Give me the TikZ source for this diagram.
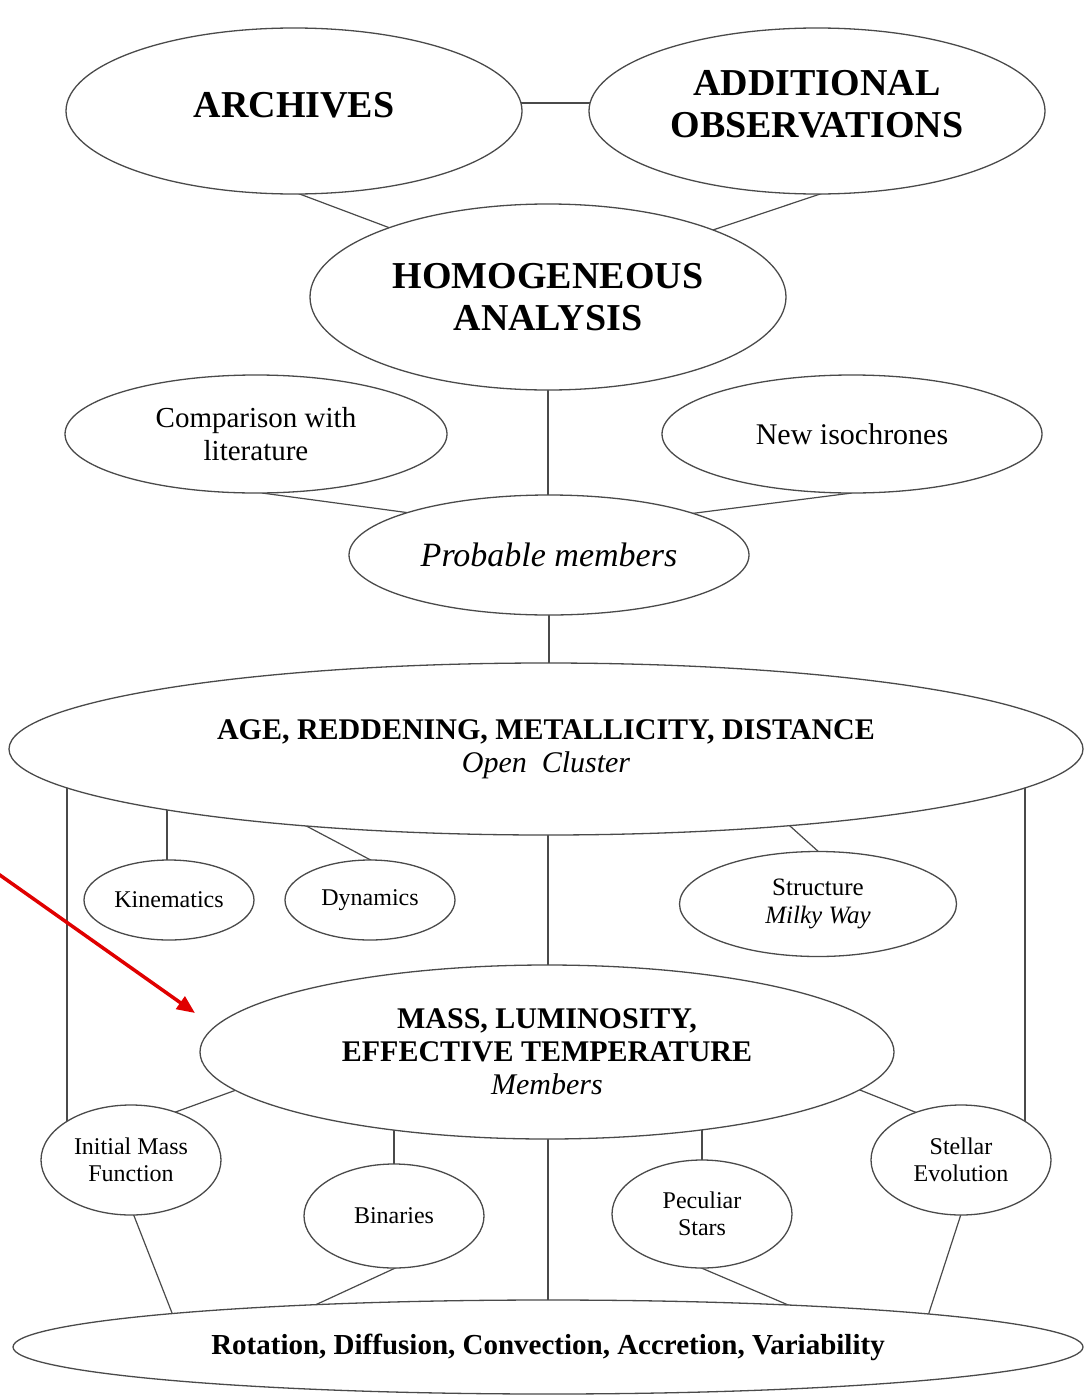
\documentclass[tikz,border=0pt]{standalone}
\usepackage{fontspec}
\setmainfont{Liberation Serif}
\usetikzlibrary{shapes.geometric,arrows.meta,calc}
\definecolor{lc}{HTML}{4A4A4A}
\definecolor{arrowred}{HTML}{E00000}
\newcommand{\fsz}[2]{\fontsize{#1}{#2}\selectfont}
\pgfdeclarelayer{bgzero}
\pgfdeclarelayer{background}
\pgfsetlayers{bgzero,background,main}
\tikzset{
  bub/.style={ellipse, draw=lc, fill=white, line width=1.3pt, inner sep=0pt, align=center, text=black},
  conn/.style={draw=lc, line width=1.2pt},
  bigcap/.style={font=\fsz{38}{42}\bfseries},
  smalltxt/.style={font=\fsz{24}{27}},
}
\begin{document}
\begin{tikzpicture}[x=1pt,y=-1pt]
\begin{pgfonlayer}{bgzero}
\fill[white] (0,0) rectangle (1087,1397);
\end{pgfonlayer}
\useasboundingbox (0,0) rectangle (1087,1397);

% nodes
\node[bub, bigcap, minimum width=456pt, minimum height=166pt] (arch) at (294,111) {\raisebox{6pt}[\height][\depth]{ARCHIVES}};
\node[bub, bigcap, minimum width=456pt, minimum height=166pt] (addobs) at (817,111) {\raisebox{3pt}[\height][\depth]{\begin{tabular}{@{}c@{}}ADDITIONAL\\OBSERVATIONS\end{tabular}}};
\node[bub, bigcap, minimum width=476pt, minimum height=186pt] (homog) at (548,297) {HOMOGENEOUS\\ANALYSIS};

\node[bub, minimum width=382pt, minimum height=118pt, font=\fsz{29}{33}] (comp) at (256,434) {Comparison with\\literature};
\node[bub, minimum width=380pt, minimum height=118pt, font=\fsz{30}{33}] (newiso) at (852,434) {New isochrones};
\node[bub, minimum width=400pt, minimum height=120pt, font=\fsz{34}{38}\itshape] (prob) at (549,555) {Probable members};

\node[bub, minimum width=1074pt, minimum height=172pt, font=\fsz{30}{33}] (age) at (546,749) {\bfseries AGE, REDDENING, METALLICITY, DISTANCE\\\itshape Open~~Cluster};

\node[bub, smalltxt, minimum width=170pt, minimum height=80pt] (kin) at (169,900) {Kinematics};
\node[bub, smalltxt, minimum width=170pt, minimum height=80pt] (dyn) at (370,900) {Dynamics};
\node[bub, minimum width=277pt, minimum height=105pt, font=\fsz{25}{28}] (struct) at (818,904) {Structure\\\itshape Milky Way};

\node[bub, minimum width=694pt, minimum height=174pt, font=\fsz{30}{33}] (mass) at (547,1052) {\bfseries MASS, LUMINOSITY,\\\bfseries EFFECTIVE TEMPERATURE\\\itshape Members};

\node[bub, smalltxt, minimum width=180pt, minimum height=110pt] (imf) at (131,1160) {Initial Mass\\Function};
\node[bub, smalltxt, minimum width=180pt, minimum height=104pt] (bin) at (394,1216) {Binaries};
\node[bub, smalltxt, minimum width=180pt, minimum height=108pt] (pec) at (702,1214) {Peculiar\\Stars};
\node[bub, smalltxt, minimum width=180pt, minimum height=110pt] (stev) at (961,1160) {Stellar\\Evolution};

\node[bub, minimum width=1070pt, minimum height=94pt, font=\fsz{29}{32}\bfseries] (bot) at (548,1347) {Rotation, Diffusion, Convection, Accretion, Variability};

% connectors (drawn behind the white-filled ellipses)
\begin{pgfonlayer}{background}
\draw[conn] ($(arch.center)+(206,-8)$) -- ($(addobs.center)+(-207,-8)$);
\draw[conn] ($(arch.center)+(-13,76)$) -- ($(homog.center)+(-150,-66)$);
\draw[conn] ($(addobs.center)+(21,77)$) -- ($(homog.center)+(150,-62)$);
\draw[conn] ($(homog.center)+(0,80)$) -- ($(prob.center)+(-1,-50)$);
\draw[conn] ($(comp.center)+(6,59)$) -- ($(prob.center)+(-124,-40)$);
\draw[conn] ($(newiso.center)+(0,59)$) -- ($(prob.center)+(131,-40)$);
\draw[conn] ($(prob.center)+(0,50)$) -- ($(age.center)+(3,-76)$);

\draw[conn] ($(age.center)+(-479,26)$) -- ($(imf.center)+(-64,-30)$);
\draw[conn] ($(age.center)+(479,26)$) -- ($(stev.center)+(64,-30)$);
\draw[conn] ($(age.center)+(-379,51)$) -- ($(kin.center)+(-2,-30)$);
\draw[conn] ($(age.center)+(-251,71)$) -- ($(dyn.center)+(12,-34)$);
\draw[conn] ($(age.center)+(234,68)$) -- ($(struct.center)+(12,-42)$);
\draw[conn] ($(age.center)+(2,76)$) -- ($(mass.center)+(1,-77)$);

\draw[conn] ($(mass.center)+(-297,33)$) -- ($(imf.center)+(28,-42)$);
\draw[conn] ($(mass.center)+(-153,68)$) -- ($(bin.center)+(0,-41)$);
\draw[conn] ($(mass.center)+(155,68)$) -- ($(pec.center)+(0,-42)$);
\draw[conn] ($(mass.center)+(298,32)$) -- ($(stev.center)+(-26,-40)$);
\draw[conn] ($(mass.center)+(1,77)$) -- ($(bot.center)+(0,-37)$);

\draw[conn] ($(imf.center)+(-2,43)$) -- ($(bot.center)+(-374,-29)$);
\draw[conn] ($(bin.center)+(10,48)$) -- ($(bot.center)+(-248,-35)$);
\draw[conn] ($(pec.center)+(-10,50)$) -- ($(bot.center)+(252,-37)$);
\draw[conn] ($(stev.center)+(3,45)$) -- ($(bot.center)+(377,-22)$);
\end{pgfonlayer}

% red arrow
\coordinate (rs) at (-3,873);
\coordinate (rt) at (195,1013);
\draw[arrowred, line width=3.5pt, -{Triangle[length=18pt,width=15pt]}] (rs) -- (rt);
\end{tikzpicture}
\end{document}
